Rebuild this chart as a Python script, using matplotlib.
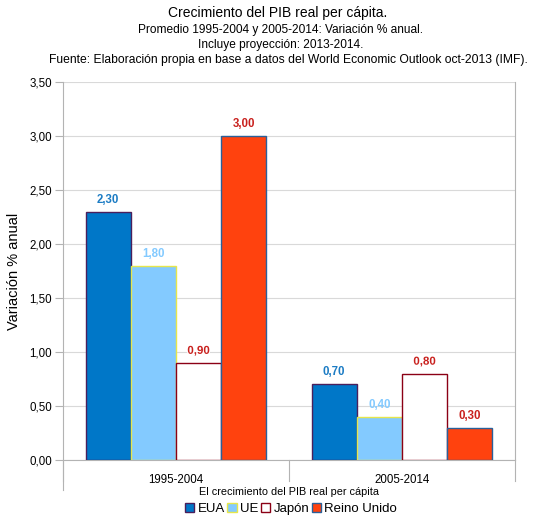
import numpy as np
import matplotlib.pyplot as plt
import matplotlib.patheffects as pe
from matplotlib.ticker import MultipleLocator, FuncFormatter

plt.rcParams['font.family'] = ['Liberation Sans', 'DejaVu Sans']

periodos = ['1995-2004', '2005-2014']
series = ['EUA', 'UE', 'Japón', 'Reino Unido']
valores = {
    'EUA': [2.30, 0.70],
    'UE': [1.80, 0.40],
    'Japón': [0.90, 0.80],
    'Reino Unido': [3.00, 0.30],
}
relleno = ['#0077c8', '#83caff', '#ffffff', '#ff420e']
borde = ['#4b1f5b', '#e6e64c', '#8b0015', '#2a6099']
color_etiqueta = ['#1c7cc4', '#83caff', '#c9211e', '#c9211e']

fig = plt.figure(figsize=(5.36, 5.26), dpi=100)
ax = fig.add_axes([63/536, 1-460/526, (515-63)/536, (460-82)/526])

x = np.arange(len(periodos))
w = 0.2
for i, s in enumerate(series):
    pos = x + (i - 1.5) * w
    bars = ax.bar(pos, valores[s], w, color=relleno[i], edgecolor=borde[i],
                  linewidth=1, zorder=3)
    for b, v in zip(bars, valores[s]):
        t = ax.text(b.get_x() + b.get_width()/2, v + 0.055, f'{v:.2f}'.replace('.', ','),
                    ha='center', va='bottom', fontsize=8.3, fontweight='bold',
                    color=color_etiqueta[i], zorder=4)
        if s == 'Japón':
            t.set_path_effects([pe.withStroke(linewidth=1.5, foreground='white')])

ax.set_xlim(-0.5, 1.5)
ax.set_ylim(0, 3.5)
ax.yaxis.set_major_locator(MultipleLocator(0.5))
ax.yaxis.set_major_formatter(FuncFormatter(lambda v, p: f'{v:.2f}'.replace('.', ',')))
ax.grid(axis='y', color='#d9d9d9', linewidth=0.8, zorder=0)
ax.set_axisbelow(True)

ax.spines['top'].set_visible(False)
for sp in ['left', 'right', 'bottom']:
    ax.spines[sp].set_color('#b3b3b3')
ax.spines['left'].set_bounds(-0.28, 3.5)

ax.set_xticks(x)
ax.set_xticklabels(periodos, fontsize=8.3)
ax.tick_params(axis='x', length=0, pad=10)
ax.tick_params(axis='y', labelsize=8.3, color='#b3b3b3', length=6, pad=2)
for xs in [-0.5, 0.5, 1.5]:
    ax.plot([xs, xs], [0, -0.19], color='#b3b3b3', linewidth=0.8,
            clip_on=False, zorder=1)

ax.set_ylabel('Variación % anual', fontsize=10.5, labelpad=6)
ax.set_xlabel('El crecimiento del PIB real per cápita', fontsize=7.8, labelpad=1)

fig.text(278/536, 1-13/526, 'Crecimiento del PIB real per cápita.', ha='center', va='center', fontsize=10)
fig.text(281/536, 1-30/526, 'Promedio 1995-2004 y 2005-2014: Variación % anual.', ha='center', va='center', fontsize=8.6)
fig.text(281/536, 1-45/526, 'Incluye proyección: 2013-2014.', ha='center', va='center', fontsize=8.6)
fig.text(288/536, 1-60/526, 'Fuente: Elaboración propia en base a datos del World Economic Outlook oct-2013 (IMF).',
         ha='center', va='center', fontsize=8.7)

handles = [plt.Rectangle((0, 0), 1, 1, facecolor=relleno[i], edgecolor=borde[i])
           for i in range(len(series))]
fig.legend(handles, series, loc='center', bbox_to_anchor=(291/536, 1-509/526), ncol=4,
           frameon=False, fontsize=9.5, handlelength=0.7, handleheight=0.7,
           handletextpad=0.25, columnspacing=0.2, borderpad=0)

fig.savefig('out.png', dpi=100)
